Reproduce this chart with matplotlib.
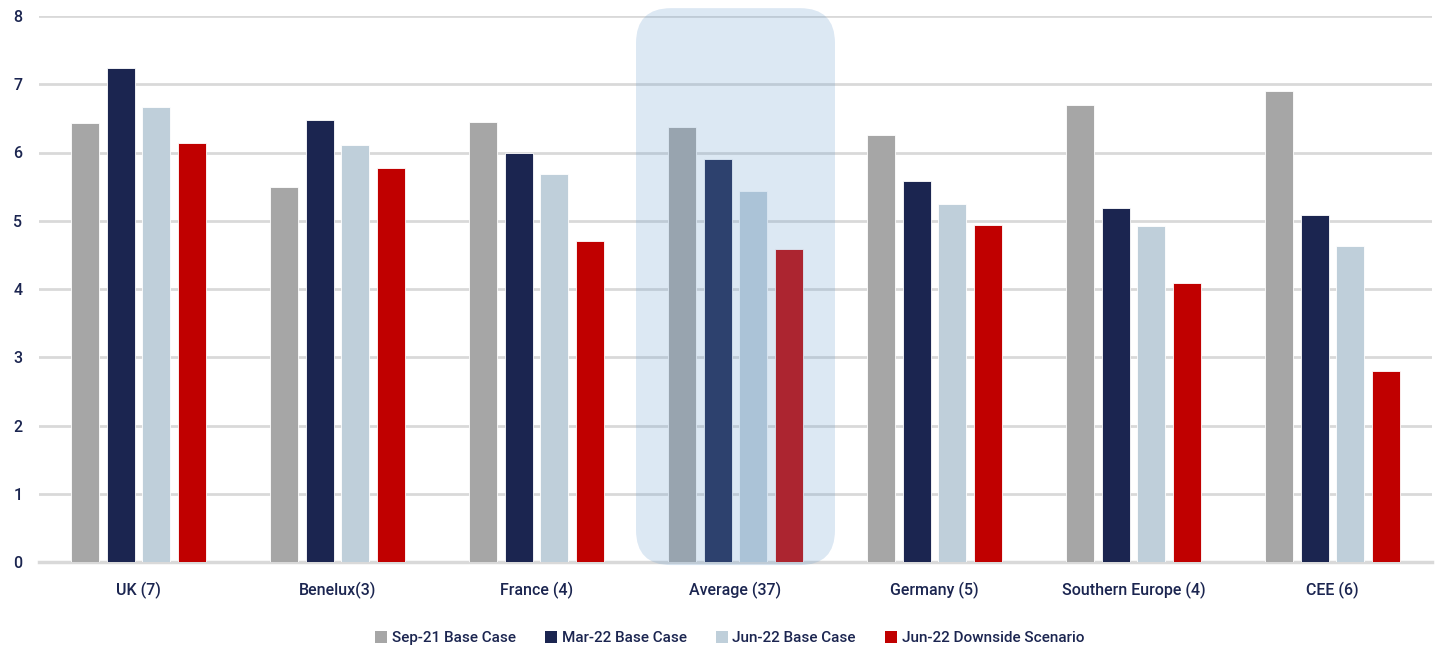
import numpy as np
import matplotlib
matplotlib.use("Agg")
import matplotlib.pyplot as plt
from matplotlib.patches import FancyBboxPatch, Patch

# data
regions = ["UK (7)", "Benelux(3)", "France (4)", "Average (37)", "Germany (5)",
           "Southern Europe (4)", "CEE (6)"]
series_names = ["Sep-21 Base Case", "Mar-22 Base Case", "Jun-22 Base Case",
                "Jun-22 Downside Scenario"]
sep21_base = [6.43, 5.49, 6.45, 6.37, 6.26, 6.70, 6.90]
mar22_base = [7.24, 6.48, 6.00, 5.90, 5.58, 5.19, 5.08]
jun22_base = [6.67, 6.11, 5.69, 5.44, 5.25, 4.92, 4.63]
jun22_down = [6.14, 5.77, 4.70, 4.59, 4.94, 4.09, 2.80]
y_ticks = [0, 1, 2, 3, 4, 5, 6, 7, 8]

colors = ["#a6a6a6", "#1b2550", "#bfcfda", "#c00000"]
text_col = "#1b2550"
grid_col = "#d9d9d9"

plt.rcParams['font.family'] = ['Roboto', 'DejaVu Sans']

fig = plt.figure(figsize=(14.39, 6.48), dpi=100)
ax = fig.add_axes([39/1439, 1 - 562/648, (1432-39)/1439, (562-16)/648])

x = np.arange(len(regions))
width = 0.1405
step = 0.1806
all_series = [sep21_base, mar22_base, jun22_base, jun22_down]
for i, vals in enumerate(all_series):
    ax.bar(x + (i - 1.5) * step, vals, width, color=colors[i],
           edgecolor="white", linewidth=0.6, zorder=3, label=series_names[i])

# highlight box over the average group
avg = regions.index("Average (37)")
box = FancyBboxPatch((avg - 0.5, -0.045), 1.0, 8.16,
                     boxstyle="round,pad=0,rounding_size=0.176",
                     mutation_aspect=199/68.25,
                     facecolor="#6b9ed0", alpha=0.236, edgecolor="none",
                     zorder=4, clip_on=False)
ax.add_patch(box)

ax.set_xlim(-0.5, len(regions) - 0.5)
ax.set_ylim(0, 8)
ax.set_yticks(y_ticks)
ax.set_xticks(x)
ax.set_xticklabels(regions)
ax.yaxis.grid(True, color=grid_col, linewidth=2, zorder=0)
ax.set_axisbelow(True)
for s in ["top", "right", "left"]:
    ax.spines[s].set_visible(False)
ax.spines["bottom"].set_color(grid_col)
ax.spines["bottom"].set_linewidth(2.5)
ax.spines["bottom"].set_zorder(2)
ax.tick_params(axis="both", length=0, colors=text_col, labelsize=11.5)
ax.tick_params(axis="x", pad=14)
ax.tick_params(axis="y", pad=12)
for lab in ax.get_xticklabels() + ax.get_yticklabels():
    lab.set_fontweight("medium")

handles = [Patch(facecolor=c, edgecolor="none") for c in colors]
leg = fig.legend(handles, series_names, loc="center", bbox_to_anchor=(0.507, 1 - 638/648),
                 ncol=4, frameon=False, handlelength=0.8, handleheight=0.8,
                 handletextpad=0.3, columnspacing=1.9, fontsize=11)
for t in leg.get_texts():
    t.set_color(text_col)
    t.set_fontweight("medium")

fig.savefig("out.png", dpi=100)
